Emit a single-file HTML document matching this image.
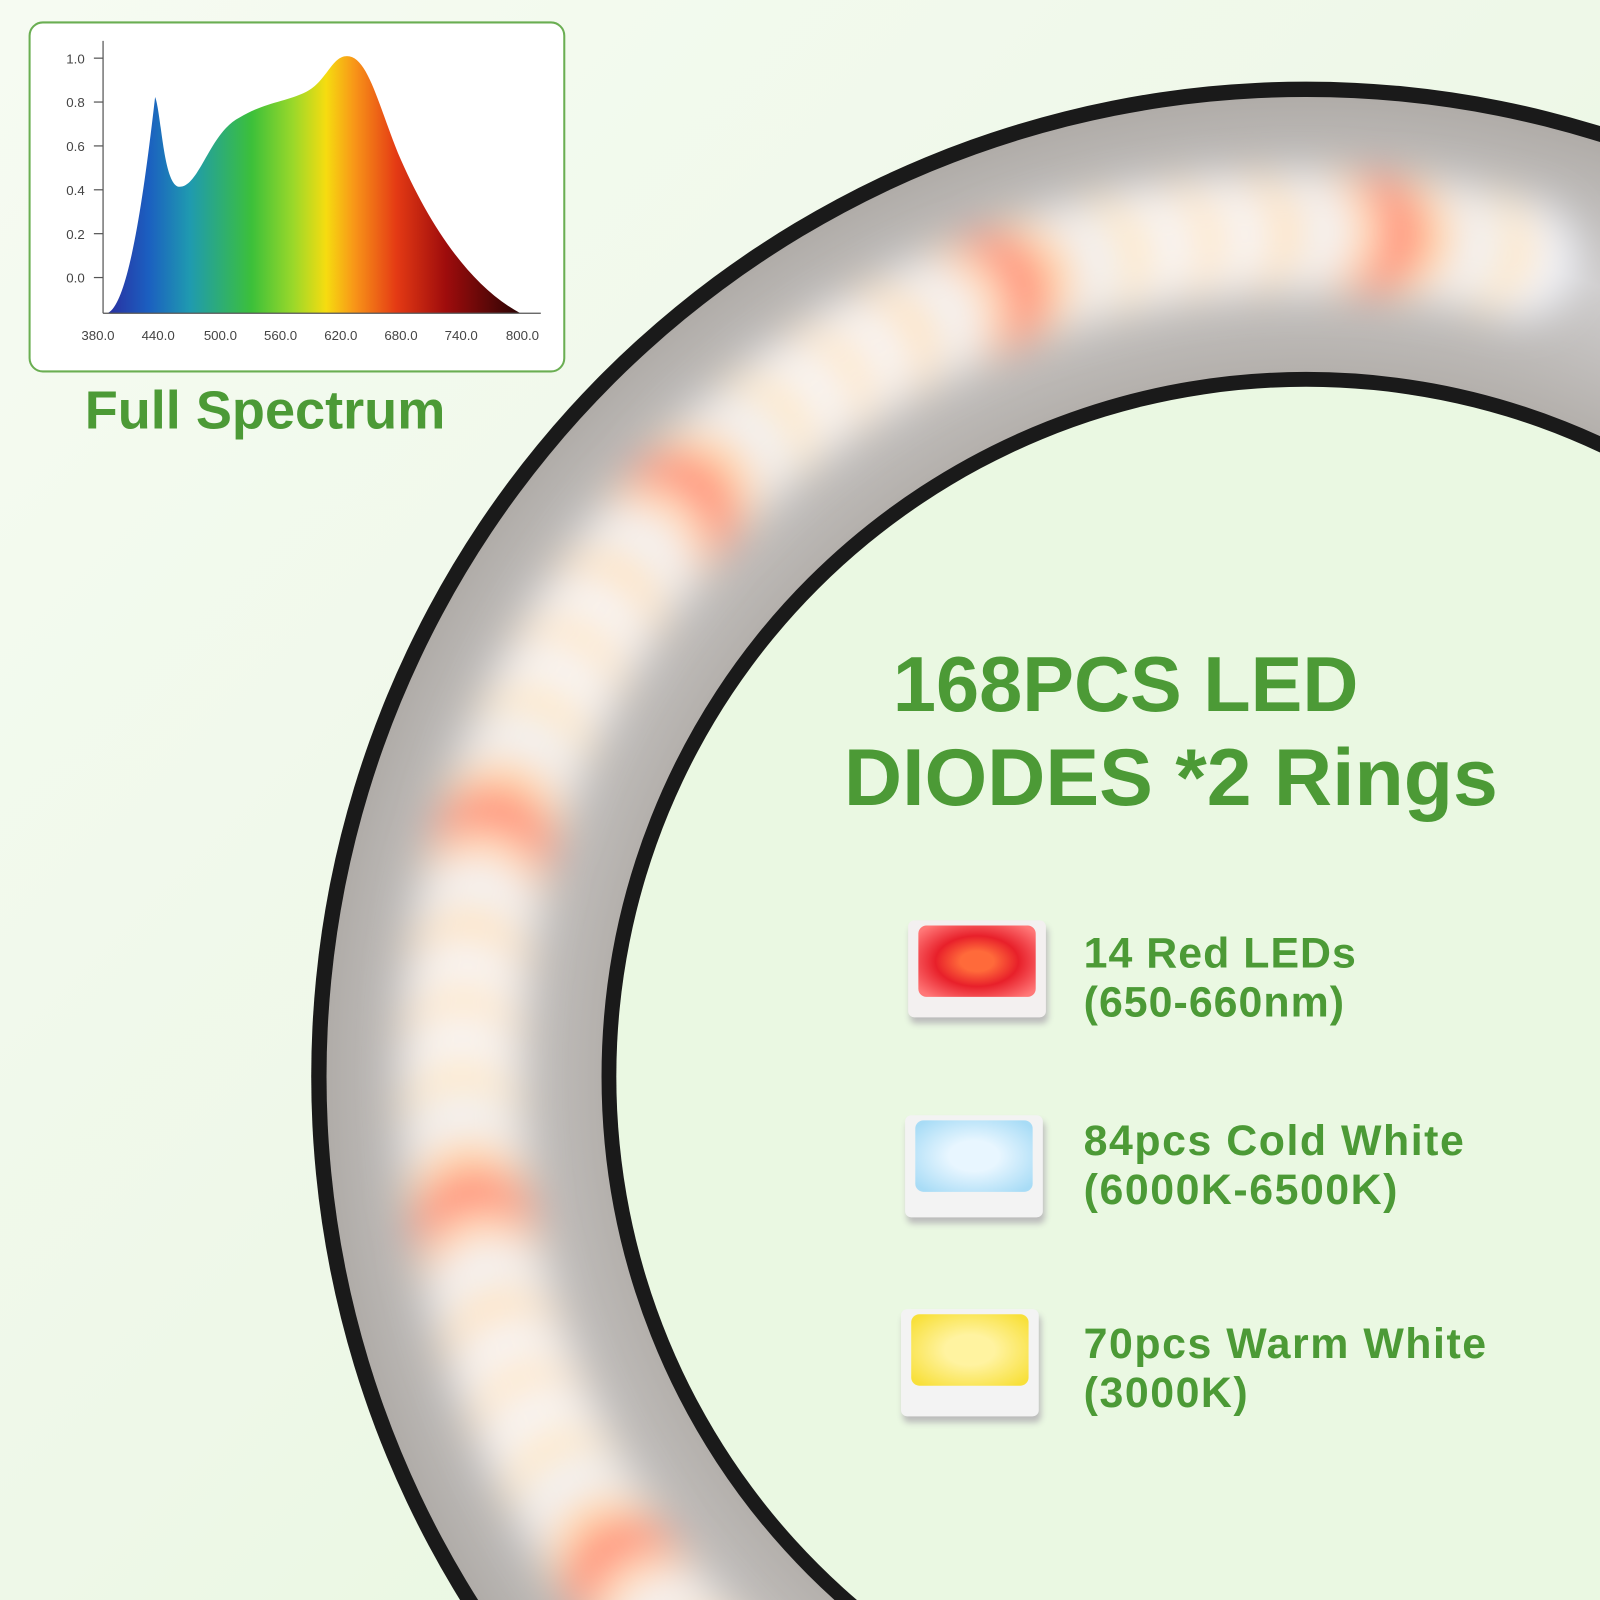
<!DOCTYPE html>
<html style="overflow:hidden"><head><meta charset="utf-8"><style>
html,body{margin:0;width:1600px;height:1600px;overflow:hidden}
body{background:linear-gradient(135deg,#f6fbf2 0%,#eef8e8 50%,#e3f6d8 100%);font-family:"Liberation Sans",sans-serif;position:relative}
#w{position:absolute;left:0;top:0;width:1568px;height:1568px;transform:scale(1.0204);transform-origin:0 0;overflow:hidden}
.t{position:absolute;color:#4c9a36;font-weight:bold;white-space:nowrap}
.chip{position:absolute;width:140px;height:110px}
</style></head><body><div id="w">
<svg width="1568" height="1568" style="position:absolute;left:0;top:0">
<defs>
<filter id="b" x="-50%" y="-50%" width="200%" height="200%"><feGaussianBlur stdDeviation="20"/></filter>
<clipPath id="band"><path fill-rule="evenodd" d="M1280,1055 m-960,0 a960,960 0 1,0 1920,0 a960,960 0 1,0 -1920,0 Z M1280,1055 m-690,0 a690,690 0 1,1 1380,0 a690,690 0 1,1 -1380,0 Z"/></clipPath>
<radialGradient id="bg" cx="1280" cy="1055" r="960" gradientUnits="userSpaceOnUse"><stop offset="0.72" stop-color="#b4b0ac"/><stop offset="0.86" stop-color="#cfcdcd"/><stop offset="1" stop-color="#b0aca8"/></radialGradient>
<linearGradient id="sp" x1="105" x2="510" y1="0" y2="0" gradientUnits="userSpaceOnUse">
<stop offset="0" stop-color="#2a2fa0"/><stop offset="0.1" stop-color="#1b5fc0"/><stop offset="0.2" stop-color="#1f9ab0"/><stop offset="0.35" stop-color="#3cc03a"/><stop offset="0.45" stop-color="#9ad82a"/><stop offset="0.53" stop-color="#f6dc10"/><stop offset="0.6" stop-color="#f89418"/><stop offset="0.7" stop-color="#e43a14"/><stop offset="0.82" stop-color="#9e0c0c"/><stop offset="1" stop-color="#2a0404"/></linearGradient>
</defs>
<circle cx="1280" cy="1055" r="975" fill="#1a1a1a"/>
<circle cx="1280" cy="1055" r="960" fill="url(#bg)"/>
<g clip-path="url(#band)" filter="url(#b)">
<g id="leds"></g>
</g>
<circle cx="1280" cy="1055" r="683" fill="none" stroke="#1a1a1a" stroke-width="15"/>
<circle cx="1280" cy="1055" r="676" fill="#eaf8e2"/>
</svg>
<script>
(function(){var g=document.getElementById('leds');var cols=['#f4f8ff','#ffe6c0','#eef4ff','#ffdcb0','#ff7a6a','#ffe4c0','#f0f6ff','#ffe0b8','#f4f8ff','#ffe6c4'];var s='';for(var i=0;i<90;i++){var a=Math.PI*(0.42+i*0.0145);var x=1280+828*Math.cos(a),y=1055-828*Math.sin(a);if(x>1700||y>1700)continue;var c=cols[i%10];s+='<ellipse cx="'+x.toFixed(1)+'" cy="'+y.toFixed(1)+'" rx="58" ry="58" fill="'+c+'" opacity="0.95"/>';}g.innerHTML=s;})();
</script>
<div style="position:absolute;left:28px;top:21px;width:522px;height:340px;border:2px solid #6aae52;border-radius:14px;background:#fff"></div>
<svg width="560" height="380" style="position:absolute;left:0;top:0;font-family:'Liberation Sans',sans-serif">
<path d="M105,307 C125,300 140,200 152,95 C158,110 160,180 175,183 C195,185 205,130 235,115 C260,100 280,100 300,90 C320,80 325,55 340,55 C360,55 370,100 390,150 C420,220 460,280 510,307 Z" fill="url(#sp)"/>
<g stroke="#555" stroke-width="1.2"><line x1="101" y1="40" x2="101" y2="307"/><line x1="101" y1="307" x2="530" y2="307"/>
<line x1="92" y1="57" x2="101" y2="57"/><line x1="92" y1="100" x2="101" y2="100"/><line x1="92" y1="143" x2="101" y2="143"/><line x1="92" y1="186" x2="101" y2="186"/><line x1="92" y1="229" x2="101" y2="229"/><line x1="92" y1="272" x2="101" y2="272"/></g>
<g font-size="13" fill="#444" text-anchor="end"><text x="83" y="62">1.0</text><text x="83" y="105">0.8</text><text x="83" y="148">0.6</text><text x="83" y="191">0.4</text><text x="83" y="234">0.2</text><text x="83" y="277">0.0</text></g>
<g font-size="13" fill="#444" text-anchor="middle"><text x="96" y="333">380.0</text><text x="155" y="333">440.0</text><text x="216" y="333">500.0</text><text x="275" y="333">560.0</text><text x="334" y="333">620.0</text><text x="393" y="333">680.0</text><text x="452" y="333">740.0</text><text x="512" y="333">800.0</text></g>
</svg>
<div class="t" style="left:83px;top:372px;font-size:53px">Full Spectrum</div>
<div class="t" style="left:875px;top:628px;font-size:76px">168PCS LED</div>
<div class="t" style="left:827px;top:716px;font-size:79px">DIODES *2 Rings</div>
<div class="chip" style="left:885px;top:897px"><div style="position:absolute;left:5px;top:5px;width:135px;height:95px;background:#f3f0f0;border-radius:6px;box-shadow:2px 6px 6px #bbb"></div><div style="position:absolute;left:15px;top:10px;width:115px;height:70px;background:radial-gradient(#ff6a3a 20%,#e8202a 50%,#f77 90%);border-radius:8px"></div></div>
<div class="chip" style="left:882px;top:1088px"><div style="position:absolute;left:5px;top:5px;width:135px;height:100px;background:#f3f3f3;border-radius:6px;box-shadow:2px 6px 6px #bbb"></div><div style="position:absolute;left:15px;top:10px;width:115px;height:70px;background:radial-gradient(#e8f6ff 30%,#a8dcf6 90%);border-radius:8px"></div></div>
<div class="chip" style="left:878px;top:1278px"><div style="position:absolute;left:5px;top:5px;width:135px;height:105px;background:#f3f3f3;border-radius:6px;box-shadow:2px 6px 6px #bbb"></div><div style="position:absolute;left:15px;top:10px;width:115px;height:70px;background:radial-gradient(#fff3a0 30%,#f8e03a 90%);border-radius:8px"></div></div>
<div class="t" style="left:1062px;top:910px;font-size:42px;line-height:48px;letter-spacing:1px">14 Red LEDs<br>(650-660nm)</div>
<div class="t" style="left:1062px;top:1094px;font-size:42px;line-height:48px;letter-spacing:1.5px">84pcs Cold White<br>(6000K-6500K)</div>
<div class="t" style="left:1062px;top:1293px;font-size:42px;line-height:48px;letter-spacing:1.5px">70pcs Warm White<br>(3000K)</div>
</div></body></html>
